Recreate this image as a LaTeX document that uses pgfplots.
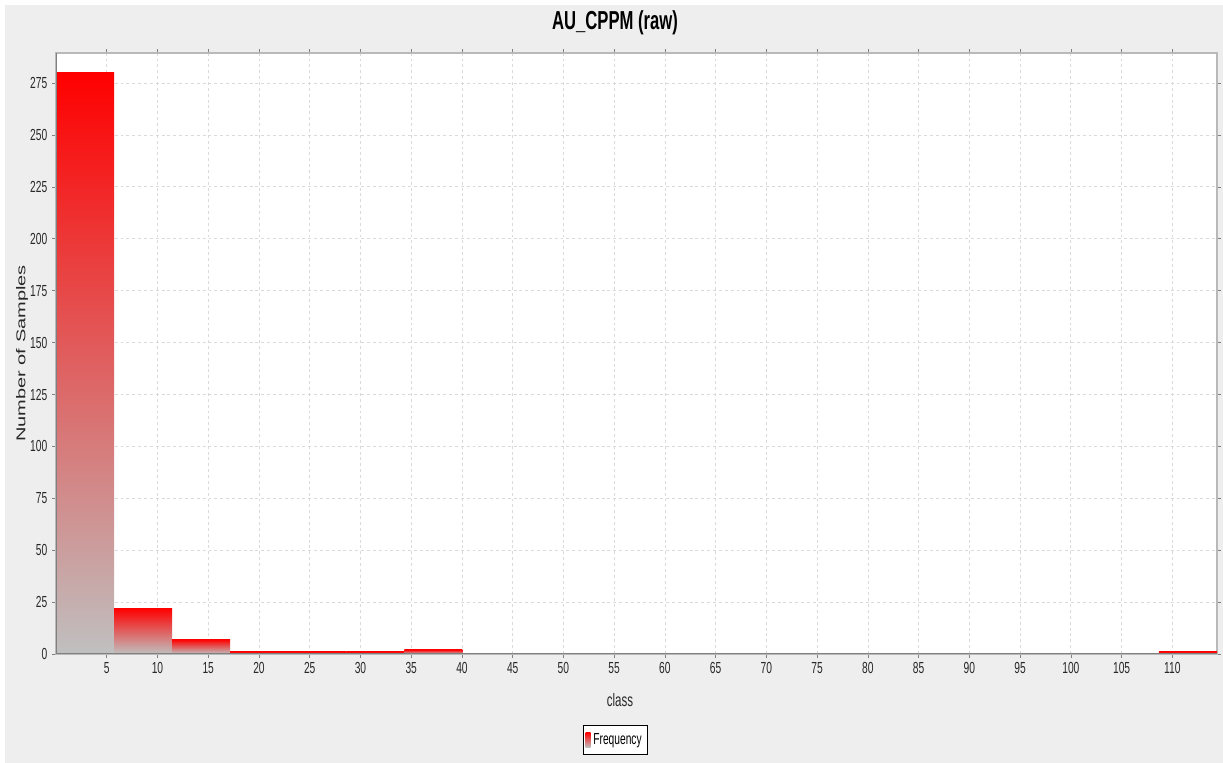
\documentclass[border=0pt]{standalone}
\usepackage{fontspec}
\setmainfont{Liberation Sans}
\usepackage{graphicx}
\usepackage{pgfplots}
\pgfplotsset{compat=1.18}
\definecolor{bggray}{RGB}{238,238,238}
\definecolor{bargray}{RGB}{192,192,192}
\definecolor{gridgray}{RGB}{218,218,218}
\definecolor{bordergray}{RGB}{185,185,185}
\definecolor{axisgray}{RGB}{128,128,128}
\definecolor{txt}{RGB}{40,40,40}
\pgfplotsset{histbar/.style={ybar, bar width=5.72, top color=red, bottom color=bargray, draw=none}}
\begin{document}
\begin{tikzpicture}
\path[use as bounding box] (0,0) rectangle (917.25pt,572.25pt);
\fill[bggray] (3.75pt,0) rectangle (917.25pt,568.5pt);
\begin{axis}[
  at={(42pt,81.75pt)}, anchor=south west,
  scale only axis, width=870.75pt, height=450.75pt,
  xmin=0, xmax=114.4, ymin=0, ymax=289.5,
  axis background/.style={fill=white},
  axis line style={draw=bordergray, line width=0.9pt},
  xtick={5,10,...,110}, ytick={0,25,...,275},
  tick align=outside, major tick length=3pt,
  tick style={axisgray, line width=0.5pt},
  xmajorgrids, ymajorgrids,
  major grid style={gridgray, dash pattern=on 2.2pt off 2.2pt, line width=0.6pt},
  ticklabel style={font=\fontsize{12}{14}\selectfont, text=txt},
  xticklabel={\scalebox{0.64}[1]{\pgfmathprintnumber[assume math mode=true]{\tick}}},
  yticklabel={\scalebox{0.64}[1]{\pgfmathprintnumber[assume math mode=true]{\tick}}},
  title={\scalebox{0.64}[1]{\fontsize{19.5}{22}\selectfont\bfseries AU\_CPPM (raw)}},
  title style={at={(0.4815,1.0365)}, anchor=center, inner sep=0pt},
  xlabel={\scalebox{0.64}[1]{\fontsize{13.5}{16}\selectfont class}},
  xlabel style={at={(0.4858,-0.0764)}, anchor=center, text=txt, inner sep=0pt},
  ylabel={\scalebox{1}[0.64]{\fontsize{15}{17}\selectfont Number of Samples}},
  ylabel style={at={(-0.0293,0.5)}, anchor=center, text=txt, inner sep=0pt},
  legend style={at={(0.4815,-0.143)}, anchor=center, draw=black, fill=white,
    font=\fontsize{12}{14}\selectfont, inner xsep=2pt, inner ysep=4pt, line width=0.6pt},
  legend image code/.code={\shade[top color=red, bottom color=bargray] (0pt,-5.5pt) rectangle (3.75pt,5.5pt);},
]
\addplot[histbar] coordinates {(2.86,280)};
\addlegendentry{\scalebox{0.64}[1]{Frequency}}
\addplot[histbar, forget plot] coordinates {(8.58,22)};
\addplot[histbar, forget plot] coordinates {(14.30,7)};
\addplot[histbar, forget plot] coordinates {(20.02,1)};
\addplot[histbar, forget plot] coordinates {(25.74,1)};
\addplot[histbar, forget plot] coordinates {(31.46,1)};
\addplot[histbar, forget plot] coordinates {(37.18,2)};
\addplot[histbar, forget plot] coordinates {(111.54,1)};
\draw[axisgray, line width=0.9pt] (rel axis cs:0,1) -- (rel axis cs:0,0) -- (rel axis cs:1,0);
\end{axis}
\end{tikzpicture}
\end{document}
